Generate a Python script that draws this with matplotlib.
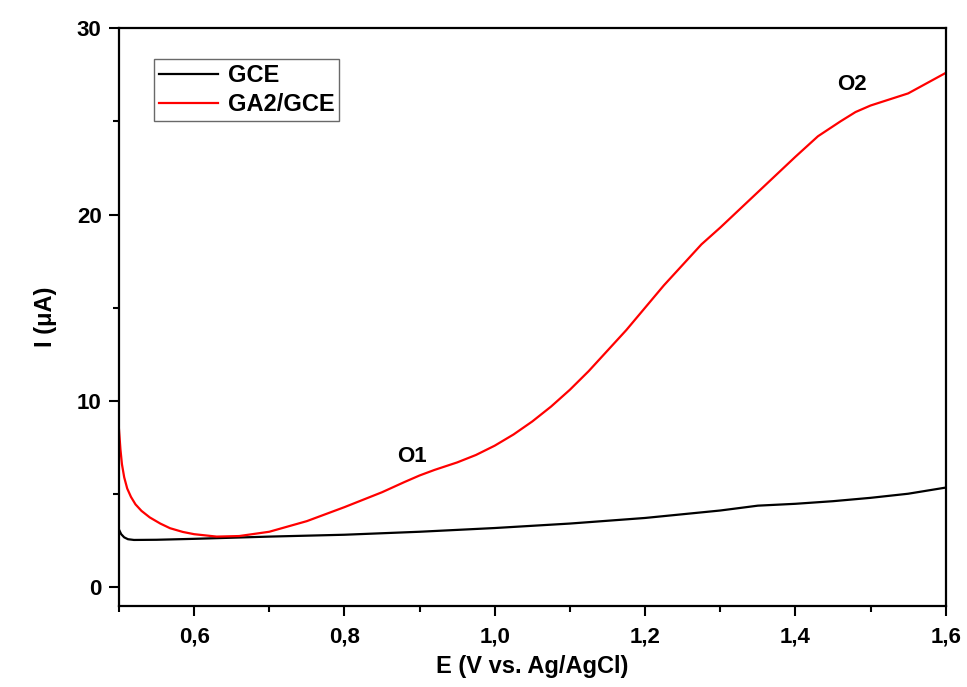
import matplotlib
matplotlib.use('Agg')
from matplotlib import pyplot as plt

plt.rcParams['font.family'] = ['Liberation Sans', 'DejaVu Sans']
plt.rcParams['font.weight'] = 'bold'

# GCE (black)
gce_e = [0.500, 0.503, 0.507, 0.512, 0.52, 0.55, 0.60, 0.70, 0.80, 0.90, 1.00, 1.10,
         1.20, 1.25, 1.30, 1.35, 1.40, 1.45, 1.50, 1.55, 1.60]
gce_i = [3.1, 2.85, 2.68, 2.58, 2.54, 2.55, 2.6, 2.72, 2.82, 2.98, 3.18, 3.42,
         3.72, 3.92, 4.12, 4.38, 4.48, 4.62, 4.80, 5.02, 5.35]

# GA2/GCE (red)
ga_e = [0.500, 0.502, 0.504, 0.507, 0.511, 0.516, 0.522, 0.53, 0.541, 0.555, 0.568,
        0.585, 0.60, 0.63, 0.66, 0.70, 0.75, 0.80, 0.85, 0.88, 0.90, 0.92, 0.95,
        0.975, 1.00, 1.025, 1.05, 1.075, 1.10, 1.125, 1.15, 1.175, 1.20, 1.225,
        1.25, 1.275, 1.30, 1.35, 1.40, 1.43, 1.46, 1.48, 1.50, 1.55, 1.60]
ga_i = [8.5, 7.4, 6.6, 5.9, 5.3, 4.85, 4.45, 4.1, 3.75, 3.42, 3.17,
        2.97, 2.85, 2.72, 2.75, 2.98, 3.55, 4.3, 5.1, 5.65, 6.0, 6.3, 6.7,
        7.1, 7.6, 8.2, 8.9, 9.7, 10.6, 11.6, 12.7, 13.8, 15.0, 16.2,
        17.3, 18.4, 19.3, 21.2, 23.1, 24.2, 25.0, 25.5, 25.85, 26.5, 27.6]

xticks = [0.6, 0.8, 1.0, 1.2, 1.4, 1.6]
xtick_labels = ['0,6', '0,8', '1,0', '1,2', '1,4', '1,6']
yticks = [0, 10, 20, 30]

fig = plt.figure(figsize=(9.67, 6.87), dpi=100)
ax = fig.add_axes([0.123, 0.118, 0.855, 0.841])

ax.plot(gce_e, gce_i, color='black', lw=1.6, label='GCE')
ax.plot(ga_e, ga_i, color='#ff0000', lw=1.6, label='GA2/GCE')

ax.set_xlim(0.5, 1.6)
ax.set_ylim(-1, 30)
ax.set_xticks(xticks)
ax.set_xticklabels(xtick_labels)
ax.set_xticks([0.5, 0.7, 0.9, 1.1, 1.3, 1.5], minor=True)
ax.set_yticks(yticks)
ax.set_yticks([5, 15, 25], minor=True)
ax.tick_params(which='both', direction='out', width=1.5, labelsize=16)
ax.tick_params(axis='x', which='both', pad=7)
ax.tick_params(axis='y', which='both', pad=5)
ax.tick_params(which='major', length=7.5)
ax.tick_params(which='minor', length=4.5)
for s in ax.spines.values():
    s.set_linewidth(1.6)

ax.set_xlabel('E (V vs. Ag/AgCl)', fontsize=17, fontweight='bold', labelpad=6)
ax.set_ylabel('I (\u03bcA)', fontsize=17, fontweight='bold', labelpad=14)

ax.text(0.89, 7.0, 'O1', fontsize=16, fontweight='bold', ha='center', va='center')
ax.text(1.475, 27.0, 'O2', fontsize=16, fontweight='bold', ha='center', va='center')

leg = ax.legend(loc='upper left', bbox_to_anchor=(0.043, 0.946), fontsize=17,
                frameon=True, fancybox=False, edgecolor='#444444',
                handlelength=2.5, handletextpad=0.4, borderpad=0.2,
                borderaxespad=0, labelspacing=0.25)
leg.get_frame().set_linewidth(1.0)

plt.savefig('out.png', dpi=100)
